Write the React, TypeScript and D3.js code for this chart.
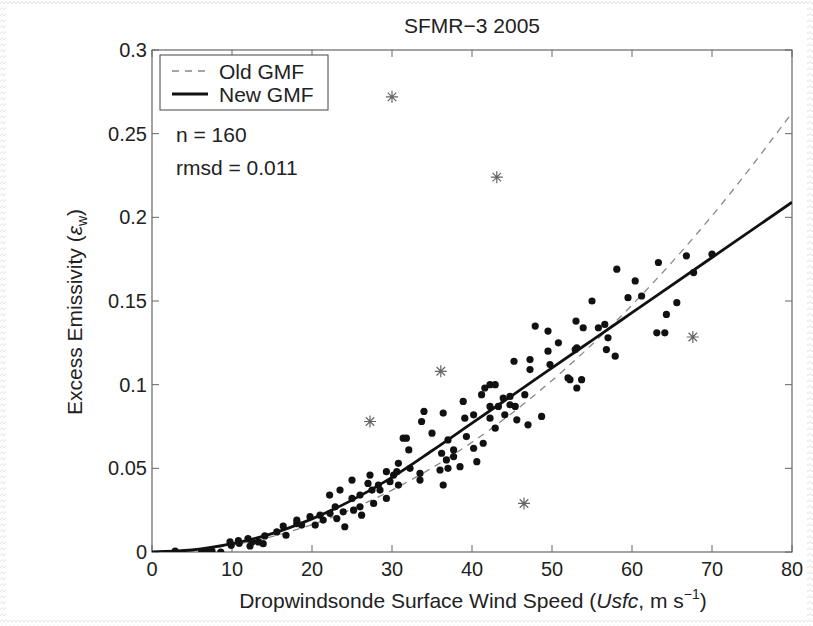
import React from "react";
import * as d3 from "d3";

const title = "SFMR\u22123 2005";
const xTicks = [0, 10, 20, 30, 40, 50, 60, 70, 80];
const yTicks = [0, 0.05, 0.1, 0.15, 0.2, 0.25, 0.3];
const yTickLabels = ["0", "0.05", "0.1", "0.15", "0.2", "0.25", "0.3"];

const newGmfU = [0, 5, 10, 15, 20, 25, 30, 35, 40, 45, 50, 55, 60, 70, 80];
const newGmfE = [0, 0.0012, 0.005, 0.011, 0.0198, 0.031, 0.0446, 0.0605, 0.077, 0.0935, 0.11, 0.1265, 0.143, 0.176, 0.209];

const oldGmfU = [0, 10, 20, 30, 40, 50, 60, 70, 80];
const oldGmfE = [0, 0.0041, 0.0164, 0.037, 0.0656, 0.1025, 0.1476, 0.2009, 0.2624];

const dotU = [
  2.9, 6.2, 6.8, 7.5, 8.6, 9.75, 9.9, 10.8, 10.9, 12.0, 12.25, 12.5, 13.3, 13.9, 14.1, 15.6, 16.4, 16.75, 18.1, 18.1,
  19.75, 18.7, 20.4, 21.4, 22.25, 22.2, 23.5, 22.9, 23.9, 24.1, 25.0, 25.0, 25.2, 26.0, 26.0, 26.2, 27.25, 27.0, 27.5, 27.7,
  28.3, 28.5, 29.3, 29.75, 29.3, 30.2, 30.6, 30.8, 30.8, 31.4, 23.1, 21.0,
  32.25, 31.8, 32.1, 33.5, 33.5, 33.7, 34.0, 35.0, 36.4, 36.0, 36.2, 36.4, 36.8, 37.0, 37.0, 37.7, 37.7, 38.5,
  38.9, 39.1, 39.3, 40.2, 40.2, 40.6, 41.2, 41.4, 41.6, 42.25, 42.9, 42.25, 42.25, 42.9, 43.3, 43.9, 44.1, 44.75, 44.75, 45.6, 45.4,
  47.0, 48.7, 46.6, 45.25, 47.25, 47.25, 47.9, 49.5, 49.5, 49.75, 50.8, 52.0, 52.25, 52.9, 53.1, 53.1, 53.7, 53.0, 53.9,
  55.0, 55.8, 56.6, 57.0, 56.8, 57.9,
  58.1, 60.4, 59.5, 61.2, 63.3, 65.6, 64.3, 63.1, 64.1, 66.8, 67.7, 70.0,
];
const dotE = [
  0.0006, 0.0, 0.0006, 0.0006, 0.0, 0.006, 0.004, 0.0068, 0.0052, 0.008, 0.0036, 0.006, 0.006, 0.005, 0.0096, 0.012, 0.0155, 0.01, 0.019, 0.017,
  0.0211, 0.0161, 0.0161, 0.0191, 0.0231, 0.034, 0.037, 0.027, 0.024, 0.0151, 0.043, 0.032, 0.025, 0.034, 0.027, 0.022, 0.046, 0.041, 0.037, 0.029,
  0.04, 0.037, 0.048, 0.042, 0.032, 0.046, 0.048, 0.053, 0.04, 0.068, 0.02, 0.022,
  0.05, 0.068, 0.061, 0.047, 0.043, 0.078, 0.084, 0.071, 0.083, 0.049, 0.059, 0.04, 0.055, 0.05, 0.067, 0.061, 0.057, 0.051,
  0.09, 0.08, 0.069, 0.082, 0.062, 0.054, 0.094, 0.065, 0.098, 0.1, 0.1, 0.087, 0.08, 0.074, 0.087, 0.092, 0.082, 0.093, 0.088, 0.079, 0.087,
  0.076, 0.081, 0.094, 0.114, 0.115, 0.109, 0.135, 0.132, 0.12, 0.112, 0.125, 0.104, 0.103, 0.121, 0.122, 0.098, 0.103, 0.138, 0.134,
  0.15, 0.134, 0.136, 0.128, 0.121, 0.117,
  0.169, 0.162, 0.152, 0.153, 0.173, 0.149, 0.142, 0.131, 0.131, 0.177, 0.167, 0.178,
];

const starU = [30.0, 43.1, 36.1, 27.25, 46.5, 67.6];
const starE = [0.272, 0.224, 0.108, 0.078, 0.029, 0.1285];

const W = 813;
const H = 626;
const left = 152;
const right = 792;
const top = 50;
const bottom = 552;
const FONT = "'Liberation Sans', Arial, Helvetica, sans-serif";

export default function App() {
  const x = d3.scaleLinear().domain([0, 80]).range([left, right]);
  const y = d3.scaleLinear().domain([0, 0.3]).range([bottom, top]);

  const newLine = d3
    .line<number>()
    .x((_, i) => x(newGmfU[i]))
    .y((_, i) => y(newGmfE[i]))
    .curve(d3.curveMonotoneX)(newGmfU);
  const oldLine = d3
    .line<number>()
    .x((_, i) => x(oldGmfU[i]))
    .y((_, i) => y(oldGmfE[i]))
    .curve(d3.curveMonotoneX)(oldGmfU);

  const tickLen = 7;
  const axisColor = "#666";
  const textColor = "#222";
  const fs = 21;
  const tfs = 20;

  const starPath = (cx: number, cy: number, r: number) => {
    let p = "";
    for (let k = 0; k < 4; k++) {
      const a = (k * Math.PI) / 4;
      const dx = Math.cos(a) * r;
      const dy = Math.sin(a) * r;
      p += `M${cx - dx},${cy - dy}L${cx + dx},${cy + dy}`;
    }
    return p;
  };

  return (
    <svg
      width={W}
      height={H}
      style={{ position: "fixed", left: 0, top: 0, background: "#fff" }}
      fontFamily={FONT}
    >
      <defs>
        <pattern id="zz" width="8" height="6" patternUnits="userSpaceOnUse">
          <path d="M0,4 L2,1.5 L4,4 L6,1.5 L8,4" fill="none" stroke="#e4e4e4" strokeWidth="1" />
        </pattern>
        <clipPath id="plotclip">
          <rect x={left} y={top} width={right - left} height={bottom - top} />
        </clipPath>
      </defs>
      <rect x={0} y={0} width={W} height={H} fill="url(#zz)" />
      <rect x={6} y={6} width={W - 12} height={H - 12} fill="#fff" />

      <text x={472} y={33} textAnchor="middle" fontSize={fs} fill={textColor}>
        {title}
      </text>

      {/* plot box */}
      <rect x={left} y={top} width={right - left} height={bottom - top} fill="#fff" stroke={axisColor} strokeWidth={1.2} />

      {/* ticks */}
      {xTicks.map((t) => (
        <g key={"xt" + t}>
          <line x1={x(t)} x2={x(t)} y1={bottom} y2={bottom - tickLen} stroke={axisColor} strokeWidth={1} />
          <line x1={x(t)} x2={x(t)} y1={top} y2={top + tickLen} stroke={axisColor} strokeWidth={1} />
          <text x={x(t)} y={bottom + 24} textAnchor="middle" fontSize={tfs} fill={textColor}>
            {t}
          </text>
        </g>
      ))}
      {yTicks.map((t, i) => (
        <g key={"yt" + t}>
          <line x1={left} x2={left + tickLen} y1={y(t)} y2={y(t)} stroke={axisColor} strokeWidth={1} />
          <line x1={right} x2={right - tickLen} y1={y(t)} y2={y(t)} stroke={axisColor} strokeWidth={1} />
          <text x={left - 5} y={y(t) + 7} textAnchor="end" fontSize={tfs} fill={textColor}>
            {yTickLabels[i]}
          </text>
        </g>
      ))}

      <g clipPath="url(#plotclip)">
        <path d={oldLine || ""} fill="none" stroke="#888" strokeWidth={1.3} strokeDasharray="7,6" />
        {dotU.map((u, i) => (
          <circle key={"d" + i} cx={x(u)} cy={y(dotE[i])} r={3.6} fill="#111" />
        ))}
        <path d={newLine || ""} fill="none" stroke="#111" strokeWidth={2.8} />
        {starU.map((u, i) => (
          <path key={"s" + i} d={starPath(x(u), y(starE[i]), 6)} stroke="#666" strokeWidth={1.2} fill="none" />
        ))}
      </g>

      {/* legend */}
      <rect x={160} y={55} width={168} height={55} fill="#fff" stroke="#444" strokeWidth={1} />
      <line x1={172} x2={208} y1={71} y2={71} stroke="#888" strokeWidth={1.3} strokeDasharray="7,6" />
      <text x={219} y={79} fontSize={fs} fill={textColor}>Old GMF</text>
      <line x1={172} x2={208} y1={94} y2={94} stroke="#111" strokeWidth={2.8} />
      <text x={219} y={102} fontSize={fs} fill={textColor}>New GMF</text>

      <text x={176} y={142} fontSize={fs} fill={textColor}>n = 160</text>
      <text x={176} y={175} fontSize={fs} fill={textColor}>rmsd = 0.011</text>

      {/* axis labels */}
      <text x={473} y={608} textAnchor="middle" fontSize={fs} fill={textColor}>
        Dropwindsonde Surface Wind Speed (<tspan fontStyle="italic">Usfc</tspan>, m s
        <tspan dy={-9} fontSize={14}>{"\u22121"}</tspan>
        <tspan dy={9}>)</tspan>
      </text>
      <text
        transform={`translate(82,${(top + bottom) / 2 + 11}) rotate(-90)`}
        textAnchor="middle"
        fontSize={fs}
        fill={textColor}
      >
        Excess Emissivity (<tspan fontStyle="italic">{"\u03b5"}</tspan>
        <tspan dy={5} fontSize={14}>w</tspan>
        <tspan dy={-5}>)</tspan>
      </text>
    </svg>
  );
}
